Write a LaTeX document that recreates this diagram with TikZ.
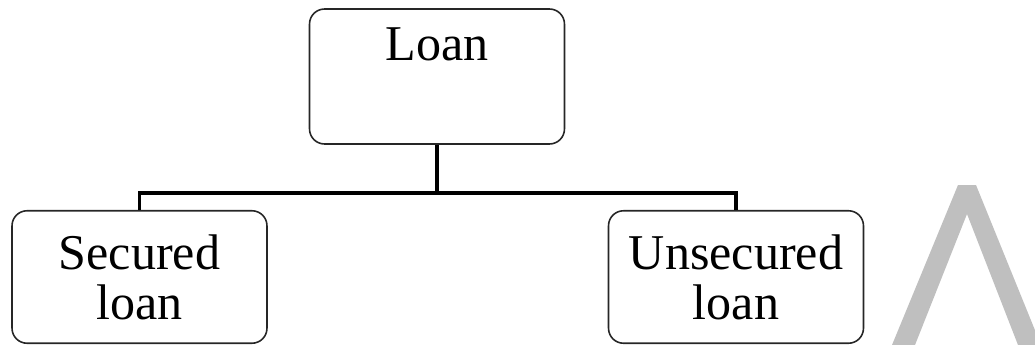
\documentclass[tikz,border=0pt]{standalone}
\usepackage{fontspec}
\setmainfont{Liberation Serif}
\newfontfamily\boxfont{Liberation Serif}
\begin{document}
\tikzset{
  box/.style={draw=black!85, line width=0.9pt, rounded corners=0.3cm, minimum width=5.1cm,
    minimum height=2.65cm, align=center, inner sep=2pt, font=\boxfont\fontsize{28.5}{28.5}\selectfont},
  conn/.style={draw=black, line width=1.8pt}
}
\begin{tikzpicture}[x=0.02cm, y=-0.02cm]
        \useasboundingbox (0,0) rectangle (1035,345);

        \node[box, minimum height=2.7cm] (loan) at (437,76.5) {Loan\\\strut};
        \node[box] (secured) at (139.5,277) {Secured\\loan};
        \node[box] (unsecured) at (736,277) {Unsecured\\loan};

        \coordinate (bus) at (437,193);
        \draw[conn] (loan.south) -- (bus);
        \draw[conn] (secured.north) |- (bus) -| (unsecured.north);

        \fill[black!25] (892,345) -- (958,185) -- (976,185) -- (1041,345) -- (1018,345) -- (967,214) -- (915,345) -- cycle;
\end{tikzpicture}
\end{document}
